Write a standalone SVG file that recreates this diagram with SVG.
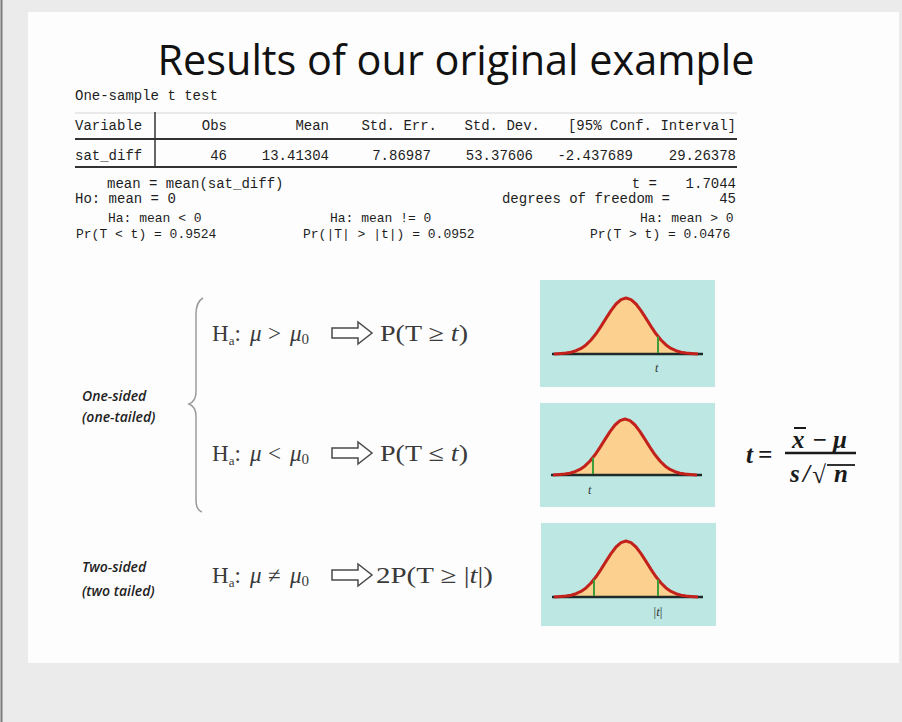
<svg xmlns="http://www.w3.org/2000/svg" width="902" height="722" viewBox="0 0 902 722">
<style>
.mono{font-family:"Liberation Mono","DejaVu Sans Mono",monospace;font-size:14px;fill:#1d1d1d}
.sm{font-size:13px}
.mr{text-anchor:end}
.ser{font-family:"Liberation Serif","DejaVu Serif",serif;font-size:23px;fill:#3a3a3a}
.it{font-style:italic}
.lab{font-family:"Open Sans","Liberation Sans",sans-serif;font-style:italic;font-weight:600;font-size:14px;fill:#222}
.rule{stroke:#333;stroke-width:2}
.box{fill:#bde7e3}
.curvefill{fill:#fcd18f;stroke:none}
.curve{fill:none;stroke:#c3221c;stroke-width:3;stroke-linejoin:round}
.axis{stroke:#1f2a2a;stroke-width:2.5}
.tick{stroke:#3e9c3a;stroke-width:2}
.arrow{fill:#fff;stroke:#4a4a4a;stroke-width:1.5;stroke-linejoin:miter}
.fx{font-family:"Liberation Serif","DejaVu Serif",serif;font-size:25px;font-weight:bold;font-style:italic;fill:#1a1a1a}
</style>
<defs>
<polyline id="bell" points="-72,0 -65,-0.5 -60,-0.9 -55,-1.8 -50,-3.3 -45,-5.6 -40,-9.1 -35,-14 -30,-20.2 -25,-27.6 -20,-35.6 -15,-43.4 -10,-50 -5,-54.4 0,-56 5,-54.4 10,-50 15,-43.4 20,-35.6 25,-27.6 30,-20.2 35,-14 40,-9.1 45,-5.6 50,-3.3 55,-1.8 60,-0.9 65,-0.5 72,0"/>
<g id="dist">
<use href="#bell" class="curvefill"/>
<line x1="-74" y1="0" x2="77" y2="0" class="axis"/>
<use href="#bell" class="curve"/>
</g>
</defs>
<rect x="0" y="0" width="902" height="722" fill="#ebebeb"/>
<line x1="1.5" y1="0" x2="1.5" y2="722" stroke="#7a7a7a" stroke-width="2"/>
<rect x="28" y="12" width="871" height="651" fill="#fdfdfd"/>

<g id="title">
<text x="456" y="75" text-anchor="middle" font-family="'Open Sans','Liberation Sans',sans-serif" font-size="42" fill="#111" textLength="597" lengthAdjust="spacingAndGlyphs">Results of our original example</text>
</g>

<g id="stata-output">
<text x="75" y="100" class="mono">One-sample t test</text>
<line x1="75" y1="113" x2="737" y2="113" stroke="#d6d6d6" stroke-width="1"/>
<line x1="155" y1="112" x2="155" y2="168" stroke="#333" stroke-width="1.5"/>
<text x="75" y="130" class="mono">Variable</text>
<text x="227" y="130" class="mono mr">Obs</text>
<text x="329" y="130" class="mono mr">Mean</text>
<text x="437" y="130" class="mono mr">Std. Err.</text>
<text x="540" y="130" class="mono mr">Std. Dev.</text>
<text x="736" y="130" class="mono mr">[95% Conf. Interval]</text>
<line x1="75" y1="139" x2="737" y2="139" class="rule"/>
<text x="75" y="160" class="mono">sat_diff</text>
<text x="227" y="160" class="mono mr">46</text>
<text x="329" y="160" class="mono mr">13.41304</text>
<text x="431" y="160" class="mono mr">7.86987</text>
<text x="533" y="160" class="mono mr">53.37606</text>
<text x="633" y="160" class="mono mr">-2.437689</text>
<text x="736" y="160" class="mono mr">29.26378</text>
<line x1="75" y1="167" x2="737" y2="167" class="rule"/>
<text x="107" y="188" class="mono">mean = mean(sat_diff)</text>
<text x="75" y="203" class="mono">Ho: mean = 0</text>
<text x="657" y="188" class="mono mr">t =</text>
<text x="736" y="188" class="mono mr">1.7044</text>
<text x="670" y="203" class="mono mr">degrees of freedom =</text>
<text x="736" y="203" class="mono mr">45</text>
<text x="108" y="222" class="mono sm">Ha: mean &lt; 0</text>
<text x="76" y="238" class="mono sm">Pr(T &lt; t) = 0.9524</text>
<text x="330" y="222" class="mono sm">Ha: mean != 0</text>
<text x="303" y="238" class="mono sm">Pr(|T| &gt; |t|) = 0.0952</text>
<text x="640" y="222" class="mono sm">Ha: mean &gt; 0</text>
<text x="590" y="238" class="mono sm">Pr(T &gt; t) = 0.0476</text>
</g>

<g id="one-sided-label">
<text x="82" y="401" class="lab">One-sided</text>
<text x="82" y="422" class="lab">(one-tailed)</text>
<path d="M203,298 Q196,302 196,314 L196,392 Q196,401 189,404 Q196,407 196,416 L196,500 Q196,510 202,512" fill="none" stroke="#9a9a9a" stroke-width="1.5"/>
</g>

<g id="upper-tail">
<text x="212" y="341" class="ser">H<tspan font-size="13" dy="4">a</tspan><tspan dy="-4">:</tspan><tspan x="250" class="it">μ</tspan><tspan x="268">&gt;</tspan><tspan x="290" class="it">μ</tspan><tspan font-size="15" dy="3">0</tspan></text>
<polygon class="arrow" points="332,328 358,328 358,322 372,333 358,344 358,338 332,338"/>
<text x="380" y="341" class="ser" textLength="88" lengthAdjust="spacingAndGlyphs">P(T ≥ <tspan class="it">t</tspan>)</text>
</g>

<g id="lower-tail">
<text x="212" y="461" class="ser">H<tspan font-size="13" dy="4">a</tspan><tspan dy="-4">:</tspan><tspan x="250" class="it">μ</tspan><tspan x="268">&lt;</tspan><tspan x="290" class="it">μ</tspan><tspan font-size="15" dy="3">0</tspan></text>
<polygon class="arrow" points="332,448 358,448 358,442 372,453 358,464 358,458 332,458"/>
<text x="380" y="461" class="ser" textLength="88" lengthAdjust="spacingAndGlyphs">P(T ≤ <tspan class="it">t</tspan>)</text>
</g>

<g id="two-sided-label">
<text x="82" y="572" class="lab">Two-sided</text>
<text x="82" y="596" class="lab">(two tailed)</text>
</g>

<g id="two-tail">
<text x="212" y="583" class="ser">H<tspan font-size="13" dy="4">a</tspan><tspan dy="-4">:</tspan><tspan x="250" class="it">μ</tspan><tspan x="268">≠</tspan><tspan x="290" class="it">μ</tspan><tspan font-size="15" dy="3">0</tspan></text>
<polygon class="arrow" points="332,570 358,570 358,564 372,575 358,586 358,580 332,580"/>
<text x="376" y="583" class="ser" textLength="117" lengthAdjust="spacingAndGlyphs">2P(T ≥ |<tspan class="it">t</tspan>|)</text>
</g>

<g id="plot-upper">
<rect x="540" y="280" width="175" height="107" class="box"/>
<use href="#dist" x="626" y="354"/>
<line x1="658" y1="336.5" x2="658" y2="353" class="tick"/>
<text x="655" y="372" font-family="'Liberation Serif',serif" font-style="italic" font-size="12" fill="#333">t</text>
</g>

<g id="plot-lower">
<rect x="540" y="403" width="175" height="104" class="box"/>
<use href="#dist" x="625" y="475"/>
<line x1="593" y1="457.5" x2="593" y2="474" class="tick"/>
<text x="588" y="494" font-family="'Liberation Serif',serif" font-style="italic" font-size="12" fill="#333">t</text>
</g>

<g id="plot-two">
<rect x="541" y="523" width="175" height="103" class="box"/>
<use href="#dist" x="626" y="597"/>
<line x1="594" y1="579.5" x2="594" y2="596" class="tick"/>
<line x1="658" y1="579.5" x2="658" y2="596" class="tick"/>
<text x="658" y="616" text-anchor="middle" font-family="'Liberation Serif',serif" font-size="13" fill="#333">|<tspan font-style="italic">t</tspan>|</text>
</g>

<g id="t-formula">
<text x="746" y="463" class="fx">t</text>
<text x="758" y="463" class="fx" font-style="normal">=</text>
<line x1="785" y1="453" x2="856" y2="453" stroke="#1a1a1a" stroke-width="2.5"/>
<text x="792" y="448" class="fx">x</text>
<line x1="794" y1="428" x2="806" y2="428" stroke="#1a1a1a" stroke-width="2"/>
<text x="812" y="448" class="fx" font-style="normal">−</text>
<text x="833" y="448" class="fx">μ</text>
<text x="790" y="482" class="fx">s</text>
<text x="803" y="482" class="fx" font-style="normal" font-weight="normal">/</text>
<text x="812" y="483" class="fx" font-style="normal">√</text>
<line x1="827" y1="465" x2="855" y2="465" stroke="#1a1a1a" stroke-width="1.8"/>
<text x="834" y="482" class="fx">n</text>
</g>
</svg>
